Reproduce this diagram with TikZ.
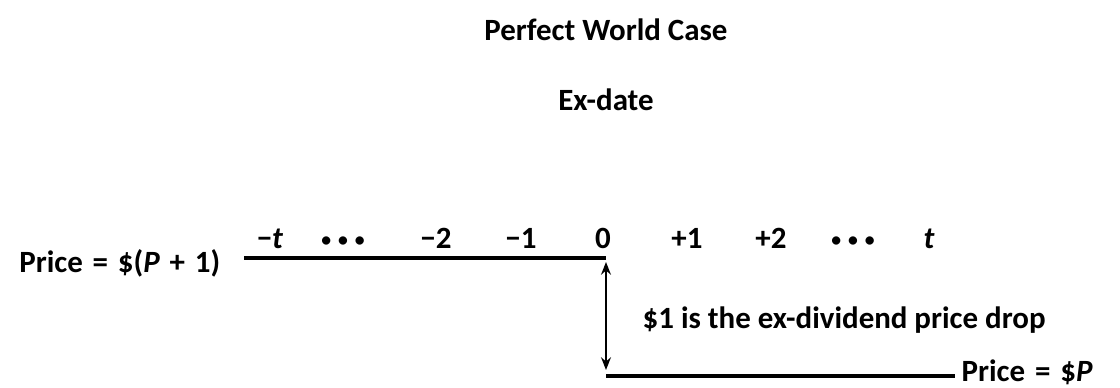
\documentclass[tikz,border=0pt]{standalone}
\usepackage{fontspec}
\setmainfont{Carlito}
\usetikzlibrary{positioning,arrows.meta}

\newcommand{\dotsrow}{{\fontsize{14}{14}\selectfont\raisebox{1pt}{•\hspace{5pt}•\hspace{5pt}•}}}
\newcommand{\gap}{\hspace{7pt}}

\tikzset{
  lbl/.style={font=\bfseries\fontsize{22}{26}\selectfont, inner sep=1pt},
  tick/.style={lbl, anchor=base},
  level/.style={line width=2.2pt},
}

\begin{document}
\begin{tikzpicture}[x=0.025cm, y=-0.025cm]
    \useasboundingbox (0,0) rectangle (1120,388);

    % titles
    \node[lbl] (title) at (606,30) {Perfect World Case};
    \node[lbl] (exdate) at (606,100) {Ex-date};

    % price levels
    \coordinate (before) at (244,258);
    \coordinate (exday) at (606,258);
    \coordinate (after) at (606,376);
    \coordinate (afterend) at (955,376);
    \node[lbl, anchor=base east] (pold) at (222,272) {Price\gap=\gap\$(\textit{P}\gap+\gap1)};
    \node[lbl, anchor=base west] (pnew) at (960,381) {Price\gap=\gap\$\textit{P}};

    \draw[level] (before) -- (exday);
    \draw[level] (after) -- (afterend);

    % days
    \node[tick] (dm) at (270,248) {−\textit{t}};
    \node[tick] (d1) at (343,248) {\dotsrow};
    \node[tick] (d2) at (436,248) {−2};
    \node[tick] (d3) at (521,248) {−1};
    \node[tick] (d0) at (603,248) {0};
    \node[tick] (d4) at (687,248) {+1};
    \node[tick] (d5) at (771,248) {+2};
    \node[tick] (d6) at (853,248) {\dotsrow};
    \node[tick] (dp) at (929,248) {\textit{t}};

    % drop
    \draw[{Stealth[length=9pt,width=7pt]}-{Stealth[length=9pt,width=7pt]}, line width=1.4pt]
      ([yshift=-0.1cm]exday) -- ([yshift=0.15cm]after);
    \node[lbl, anchor=west] (drop) at (641,320) {\$1 is the ex-dividend price drop};
  \end{tikzpicture}
\end{document}
